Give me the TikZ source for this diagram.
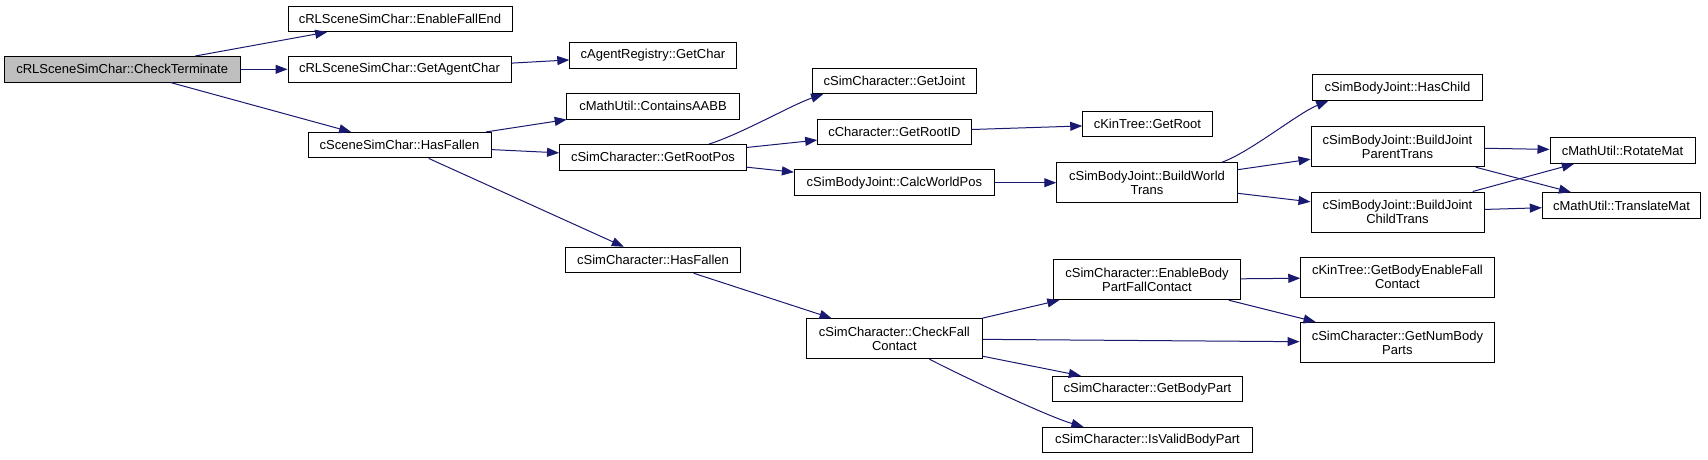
\documentclass[tikz,border=0pt]{standalone}
\usepackage{fontspec}
\setmainfont{Liberation Sans}
\usetikzlibrary{arrows.meta, positioning}
\definecolor{edgeblue}{HTML}{191970}
\definecolor{rootgray}{HTML}{BFBFBF}
\tikzset{%
	fn/.style={draw, rectangle, fill=white, line width=1pt, inner sep=0pt,%
		minimum height=25.5pt, align=center, font=\fontsize{13}{14}\selectfont},
	rootfn/.style={fn, fill=rootgray},
	twoline/.style={minimum height=40pt},
	call/.style={-{Triangle[length=12pt,width=9pt]}, color=edgeblue, line width=1pt}
}
\begin{document}
\begin{tikzpicture}[x=1pt, y=-1pt]
	\useasboundingbox (0,0) rectangle (1708,459);

	\node[rootfn, minimum width=235.6pt] (terminate) at (122.2,69.3) {cRLSceneSimChar::CheckTerminate};
	\node[fn, minimum width=224pt] (fallend) at (400,18.8) {cRLSceneSimChar::EnableFallEnd};
	\node[fn, minimum width=223pt] (agentchar) at (399.5,69.3) {cRLSceneSimChar::GetAgentChar};
	\node[fn, minimum width=183pt] (scenefallen) at (399.5,145.2) {cSceneSimChar::HasFallen};

	\node[fn, minimum width=166.2pt] (getchar) at (652.9,55.3) {cAgentRegistry::GetChar};
	\node[fn, minimum width=172.3pt] (aabb) at (653,106.3) {cMathUtil::ContainsAABB};
	\node[fn, minimum width=186.9pt] (rootpos) at (653,157.3) {cSimCharacter::GetRootPos};
	\node[fn, minimum width=175.2pt] (simfallen) at (653,260) {cSimCharacter::HasFallen};

	\node[fn, minimum width=163.6pt] (getjoint) at (894.4,81) {cSimCharacter::GetJoint};
	\node[fn, minimum width=153.4pt] (rootid) at (894.4,132) {cCharacter::GetRootID};
	\node[fn, minimum width=200pt] (worldpos) at (894.4,182.7) {cSimBodyJoint::CalcWorldPos};
	\node[fn, twoline, minimum width=175.3pt] (fallcontact) at (894.4,338.7) {cSimCharacter::CheckFall\\Contact};

	\node[fn, minimum width=129.3pt] (getroot) at (1147.4,123.8) {cKinTree::GetRoot};
	\node[fn, twoline, minimum width=180.5pt] (worldtrans) at (1147,182.7) {cSimBodyJoint::BuildWorld\\Trans};
	\node[fn, twoline, minimum width=187.4pt] (enablecontact) at (1147,279.7) {cSimCharacter::EnableBody\\PartFallContact};
	\node[fn, minimum width=190.7pt] (bodypart) at (1147.4,389) {cSimCharacter::GetBodyPart};
	\node[fn, minimum width=209.3pt] (validpart) at (1147.4,440) {cSimCharacter::IsValidBodyPart};

	\node[fn, minimum width=169.5pt] (haschild) at (1397.5,87.7) {cSimBodyJoint::HasChild};
	\node[fn, twoline, minimum width=173pt] (parenttrans) at (1397.5,146.7) {cSimBodyJoint::BuildJoint\\ParentTrans};
	\node[fn, twoline, minimum width=173pt] (childtrans) at (1397.5,212) {cSimBodyJoint::BuildJoint\\ChildTrans};
	\node[fn, twoline, minimum width=193.3pt] (enablefall) at (1397.4,277.3) {cKinTree::GetBodyEnableFall\\Contact};
	\node[fn, twoline, minimum width=194.7pt] (numparts) at (1397.4,342.4) {cSimCharacter::GetNumBody\\Parts};

	\node[fn, minimum width=145pt] (rotatemat) at (1622.5,150.7) {cMathUtil::RotateMat};
	\node[fn, minimum width=158.4pt] (translatemat) at (1621.5,205.4) {cMathUtil::TranslateMat};

	% calls
	\draw[call] (terminate) -- (fallend);
	\draw[call] (terminate) -- (agentchar);
	\draw[call] (terminate) -- (scenefallen);
	\draw[call] (agentchar) -- (getchar);
	\draw[call] (scenefallen) -- (aabb);
	\draw[call] (scenefallen) -- (rootpos);
	\draw[call] (scenefallen) -- (simfallen);
	\draw[call] ([xshift=56pt]rootpos.north) .. controls +(32,-10) and +(-30,10) .. ([xshift=11pt]getjoint.south west);
	\draw[call] (rootpos) -- (rootid);
	\draw[call] (rootpos) -- (worldpos);
	\draw[call] (rootid) -- (getroot);
	\draw[call] (worldpos) -- (worldtrans);
	\draw[call] ([xshift=75pt]worldtrans.north) .. controls +(28,-10) and +(-30,12) .. ([xshift=16pt]haschild.south west);
	\draw[call] (worldtrans) -- (parenttrans);
	\draw[call] (worldtrans) -- (childtrans);
	\draw[call] (parenttrans) -- (rotatemat);
	\draw[call] (parenttrans) -- (translatemat);
	\draw[call] (childtrans) -- (rotatemat);
	\draw[call] (childtrans) -- (translatemat);
	\draw[call] (simfallen) -- (fallcontact);
	\draw[call] (fallcontact) -- (enablecontact);
	\draw[call] (fallcontact) -- (numparts);
	\draw[call] (fallcontact) -- (bodypart);
	\draw[call] ([xshift=35pt]fallcontact.south) .. controls +(35,18) and +(-35,-10) .. ([xshift=-64pt]validpart.north);
	\draw[call] (enablecontact) -- (enablefall);
	\draw[call] (enablecontact) -- (numparts);
\end{tikzpicture}
\end{document}
